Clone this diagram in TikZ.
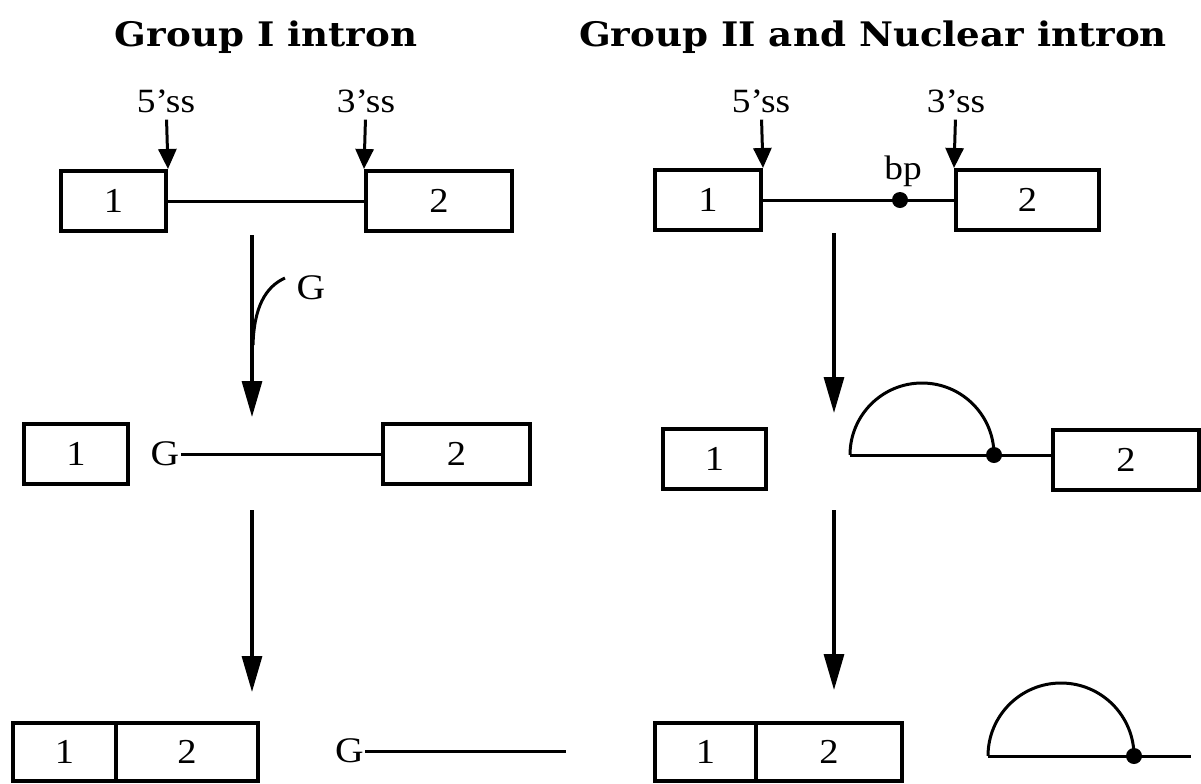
\documentclass[tikz,border=0pt]{standalone}
\usepackage{fontspec}
\setmainfont{Liberation Serif}
\newfontfamily\headfont{DejaVu Serif}
\usetikzlibrary{arrows.meta}
% the lettering is set a little wide
\newcommand\wide[1]{\scalebox{1.1}[1]{#1}}

\begin{document}
\begin{tikzpicture}[x=0.5pt, y=-0.5pt,
    exon/.style={draw, line width=2pt, minimum height=30pt, inner sep=0pt,
      font=\fontsize{17.5}{20}\selectfont},
    lbl/.style={font=\fontsize{17}{20}\selectfont},
    gnode/.style={font=\fontsize{18}{21}\selectfont, inner sep=0.6pt},
    head/.style={font=\headfont\bfseries\fontsize{16.9}{20}\selectfont, anchor=base},
    intron/.style={line width=1.5pt},
    ss/.style={-{Triangle[length=10pt, width=9pt]}, line width=1.5pt},
    stage/.style={-{Triangle[length=18pt, width=10pt]}, line width=1.6pt},
    branch/.style={circle, fill, inner sep=0pt, minimum size=8pt}]
  \useasboundingbox (0,0) rectangle (1201,783);

  \node[head] (h1) at (266,46) {\wide{Group I intron}};
  \node[head] (h2) at (873,46) {\wide{Group II and Nuclear intron}};

  % group I: precursor
  \node[exon, minimum width=52.5pt] (L1a) at (113.5,201) {\wide{1}};
  \node[exon, minimum width=73pt]   (L1b) at (439,201)   {\wide{2}};
  \draw[intron] (L1a) -- (L1b);
  \node[lbl] (ssL5) at (166,101) {\wide{5'ss}};
  \node[lbl] (ssL3) at (366,101) {\wide{3'ss}};
  \draw[ss] (ssL5) -- (L1a.north east);
  \draw[ss] (ssL3) -- (L1b.north west);

  % first step, G comes in from the side
  \coordinate (upL1) at (252,235);
  \coordinate (dnL1) at (252,417);
  \draw[stage] (upL1) -- (dnL1);
  \node[gnode] (Gin) at (311,288) {\wide{G}};
  \coordinate (Gcurve) at (285,278);
  \draw[intron] (Gcurve) .. controls (265,287) and (254,308) .. (253,345);

  \node[exon, minimum width=52pt]   (L2a) at (76,454)    {\wide{1}};
  \node[gnode] (G2) at (165,454) {\wide{G}};
  \node[exon, minimum width=73.5pt] (L2b) at (456.5,454) {\wide{2}};
  \draw[intron] (G2) -- (L2b);

  % second step
  \coordinate (upL2) at (252,510);
  \coordinate (dnL2) at (252,692);
  \draw[stage] (upL2) -- (dnL2);

  \node[exon, minimum width=51.5pt, minimum height=29pt] (L3a) at (64.5,752) {\wide{1}};
  \node[exon, minimum width=71pt, minimum height=29pt]   (L3b) at (187,752)  {\wide{2}};
  \node[gnode] (G3) at (349.5,751) {\wide{G}};
  \coordinate (tailL3) at (566,751);
  \draw[intron] (G3) -- (tailL3);

  % group II / nuclear: precursor with branch point
  \node[exon, minimum width=53pt]   (R1a) at (708,200)    {\wide{1}};
  \node[exon, minimum width=71.5pt] (R1b) at (1027.5,200) {\wide{2}};
  \draw[intron] (R1a) -- (R1b);
  \node[branch] (bp1) at (900,200) {};
  \node[lbl, anchor=base] (bp1lbl) at (903,179) {\wide{bp}};
  \node[lbl] (ssR5) at (761,101) {\wide{5'ss}};
  \node[lbl] (ssR3) at (956,101) {\wide{3'ss}};
  \draw[ss] (ssR5) -- (R1a.north east);
  \draw[ss] (ssR3) -- (R1b.north west);

  \coordinate (upR1) at (834,233);
  \coordinate (dnR1) at (834,413);
  \draw[stage] (upR1) -- (dnR1);

  % lariat still joined to exon 2
  \node[exon, minimum width=51.5pt] (R2a) at (714.5,459) {\wide{1}};
  \node[exon, minimum width=73pt]   (R2b) at (1126,460)  {\wide{2}};
  \coordinate (lar2) at (850,455);
  \draw[intron] (lar2) arc[start angle=180, end angle=0, radius=36pt] coordinate (bp2);
  \draw[intron] (lar2) -- (lar2 -| R2b.west);
  \node[branch] (bpR2) at (bp2) {};

  \coordinate (upR2) at (834,510);
  \coordinate (dnR2) at (834,690);
  \draw[stage] (upR2) -- (dnR2);

  % spliced exons and free lariat
  \node[exon, minimum width=50.5pt, minimum height=29pt] (R3a) at (705.5,752) {\wide{1}};
  \node[exon, minimum width=73pt, minimum height=29pt]   (R3b) at (829,752)   {\wide{2}};
  \coordinate (lar3) at (988,756);
  \coordinate (tailR3) at (1191,756);
  \draw[intron] (lar3) arc[start angle=180, end angle=0, radius=36.5pt] coordinate (bp3);
  \draw[intron] (lar3) -- (tailR3);
  \node[branch] (bpR3) at (bp3) {};
\end{tikzpicture}
\end{document}
